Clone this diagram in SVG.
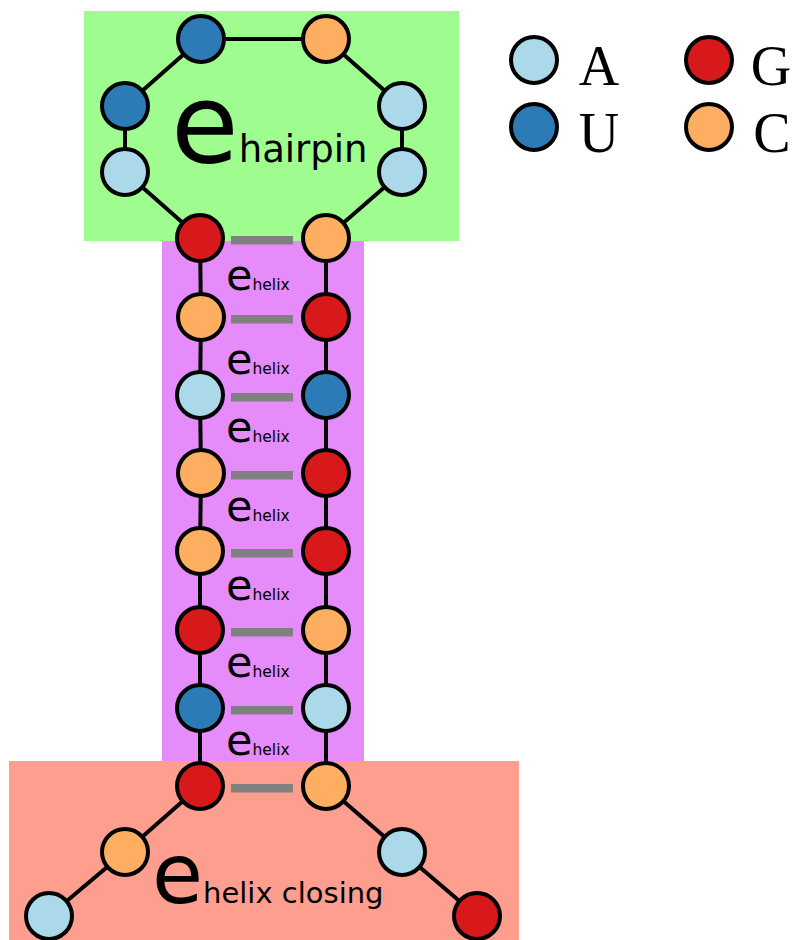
<svg xmlns="http://www.w3.org/2000/svg" width="794" height="940" viewBox="0 0 794 940">
  <style>
    .nt { stroke: #000; stroke-width: 4; }
    .A { fill: #abd9e9; }
    .U { fill: #2c7bb6; }
    .G { fill: #d7191c; }
    .C { fill: #fdae61; }
    .bb { stroke: #000; stroke-width: 4; fill: none; stroke-linejoin: round; }
    .pair { fill: #808080; }
    .lbl { font-family: "DejaVu Sans", sans-serif; fill: #000; }
    .leg { font-family: "Liberation Serif", serif; font-size: 56px; fill: #000; text-anchor: middle; }
  </style>
  <rect width="794" height="940" fill="#fff"/>

  <!-- energy regions -->
  <g id="regions">
    <rect x="84" y="11" width="375" height="230" fill="#9ffd90"/>
    <rect x="162" y="241" width="202" height="520" fill="#e68cfa"/>
    <rect x="9" y="761" width="510" height="179" fill="#fe9e8e"/>
  </g>

  <!-- backbone and base-pair connectors -->
  <g id="connectors">
    <polyline class="bb" points="200,238 125,172 125,106 201,39 326,39 402,106 402,172 326,238"/>
    <polyline class="bb" points="200,238 201,317 200,395 201,473 200,551 200,630 200,708 200,786 125,852 49,916"/>
    <polyline class="bb" points="326,238 326,317 326,395 326,473 326,551 326,630 326,708 326,786 402,852 477,916"/>
    <rect class="pair" x="231" y="236" width="62" height="8.5"/>
    <rect class="pair" x="231" y="315" width="62" height="8.5"/>
    <rect class="pair" x="231" y="393" width="62" height="8.5"/>
    <rect class="pair" x="231" y="471" width="62" height="8.5"/>
    <rect class="pair" x="231" y="549" width="62" height="8.5"/>
    <rect class="pair" x="231" y="628" width="62" height="8.5"/>
    <rect class="pair" x="231" y="706" width="62" height="8.5"/>
    <rect class="pair" x="231" y="784" width="62" height="8.5"/>
  </g>

  <!-- hairpin loop nucleotides -->
  <g id="hairpin">
    <circle id="h1" class="nt A" cx="125" cy="172" r="23"/>
    <circle id="h2" class="nt U" cx="125" cy="106" r="23"/>
    <circle id="h3" class="nt U" cx="201" cy="39" r="23"/>
    <circle id="h4" class="nt C" cx="326" cy="39" r="23"/>
    <circle id="h5" class="nt A" cx="402" cy="106" r="23"/>
    <circle id="h6" class="nt A" cx="402" cy="172" r="23"/>
  </g>

  <!-- helix stem nucleotides, 5' strand left, 3' strand right -->
  <g id="helix">
    <circle id="l1" class="nt G" cx="200" cy="238" r="23"/>
    <circle id="r1" class="nt C" cx="326" cy="238" r="23"/>
    <circle id="l2" class="nt C" cx="201" cy="317" r="23"/>
    <circle id="r2" class="nt G" cx="326" cy="317" r="23"/>
    <circle id="l3" class="nt A" cx="200" cy="395" r="23"/>
    <circle id="r3" class="nt U" cx="326" cy="395" r="23"/>
    <circle id="l4" class="nt C" cx="201" cy="473" r="23"/>
    <circle id="r4" class="nt G" cx="326" cy="473" r="23"/>
    <circle id="l5" class="nt C" cx="200" cy="551" r="23"/>
    <circle id="r5" class="nt G" cx="326" cy="551" r="23"/>
    <circle id="l6" class="nt G" cx="200" cy="630" r="23"/>
    <circle id="r6" class="nt C" cx="326" cy="630" r="23"/>
    <circle id="l7" class="nt U" cx="200" cy="708" r="23"/>
    <circle id="r7" class="nt A" cx="326" cy="708" r="23"/>
    <circle id="l8" class="nt G" cx="200" cy="786" r="23"/>
    <circle id="r8" class="nt C" cx="326" cy="786" r="23"/>
  </g>

  <!-- unpaired tails -->
  <g id="tails">
    <circle id="t1" class="nt C" cx="125" cy="852" r="23"/>
    <circle id="t2" class="nt A" cx="49" cy="916" r="23"/>
    <circle id="t3" class="nt A" cx="402" cy="852" r="23"/>
    <circle id="t4" class="nt G" cx="477" cy="916" r="23"/>
  </g>

  <!-- energy term labels -->
  <g id="labels" class="lbl">
    <text x="171" y="162"><tspan font-size="110">e</tspan><tspan font-size="37">hairpin</tspan></text>
    <text x="226" y="290"><tspan font-size="43">e</tspan><tspan font-size="15.5">helix</tspan></text>
    <text x="226" y="374"><tspan font-size="43">e</tspan><tspan font-size="15.5">helix</tspan></text>
    <text x="226" y="442"><tspan font-size="43">e</tspan><tspan font-size="15.5">helix</tspan></text>
    <text x="226" y="521"><tspan font-size="43">e</tspan><tspan font-size="15.5">helix</tspan></text>
    <text x="226" y="600"><tspan font-size="43">e</tspan><tspan font-size="15.5">helix</tspan></text>
    <text x="226" y="677"><tspan font-size="43">e</tspan><tspan font-size="15.5">helix</tspan></text>
    <text x="226" y="755"><tspan font-size="43">e</tspan><tspan font-size="15.5">helix</tspan></text>
    <text x="152" y="903"><tspan font-size="83">e</tspan><tspan font-size="29">helix closing</tspan></text>
  </g>

  <!-- nucleotide colour legend -->
  <g id="legend">
    <circle class="nt A" cx="534" cy="60" r="23"/>
    <text class="leg" x="599" y="85">A</text>
    <circle class="nt U" cx="534" cy="127" r="23"/>
    <text class="leg" x="599" y="152">U</text>
    <circle class="nt G" cx="709" cy="60" r="23"/>
    <text class="leg" x="771" y="85">G</text>
    <circle class="nt C" cx="709" cy="127" r="23"/>
    <text class="leg" x="772" y="152">C</text>
  </g>
</svg>
